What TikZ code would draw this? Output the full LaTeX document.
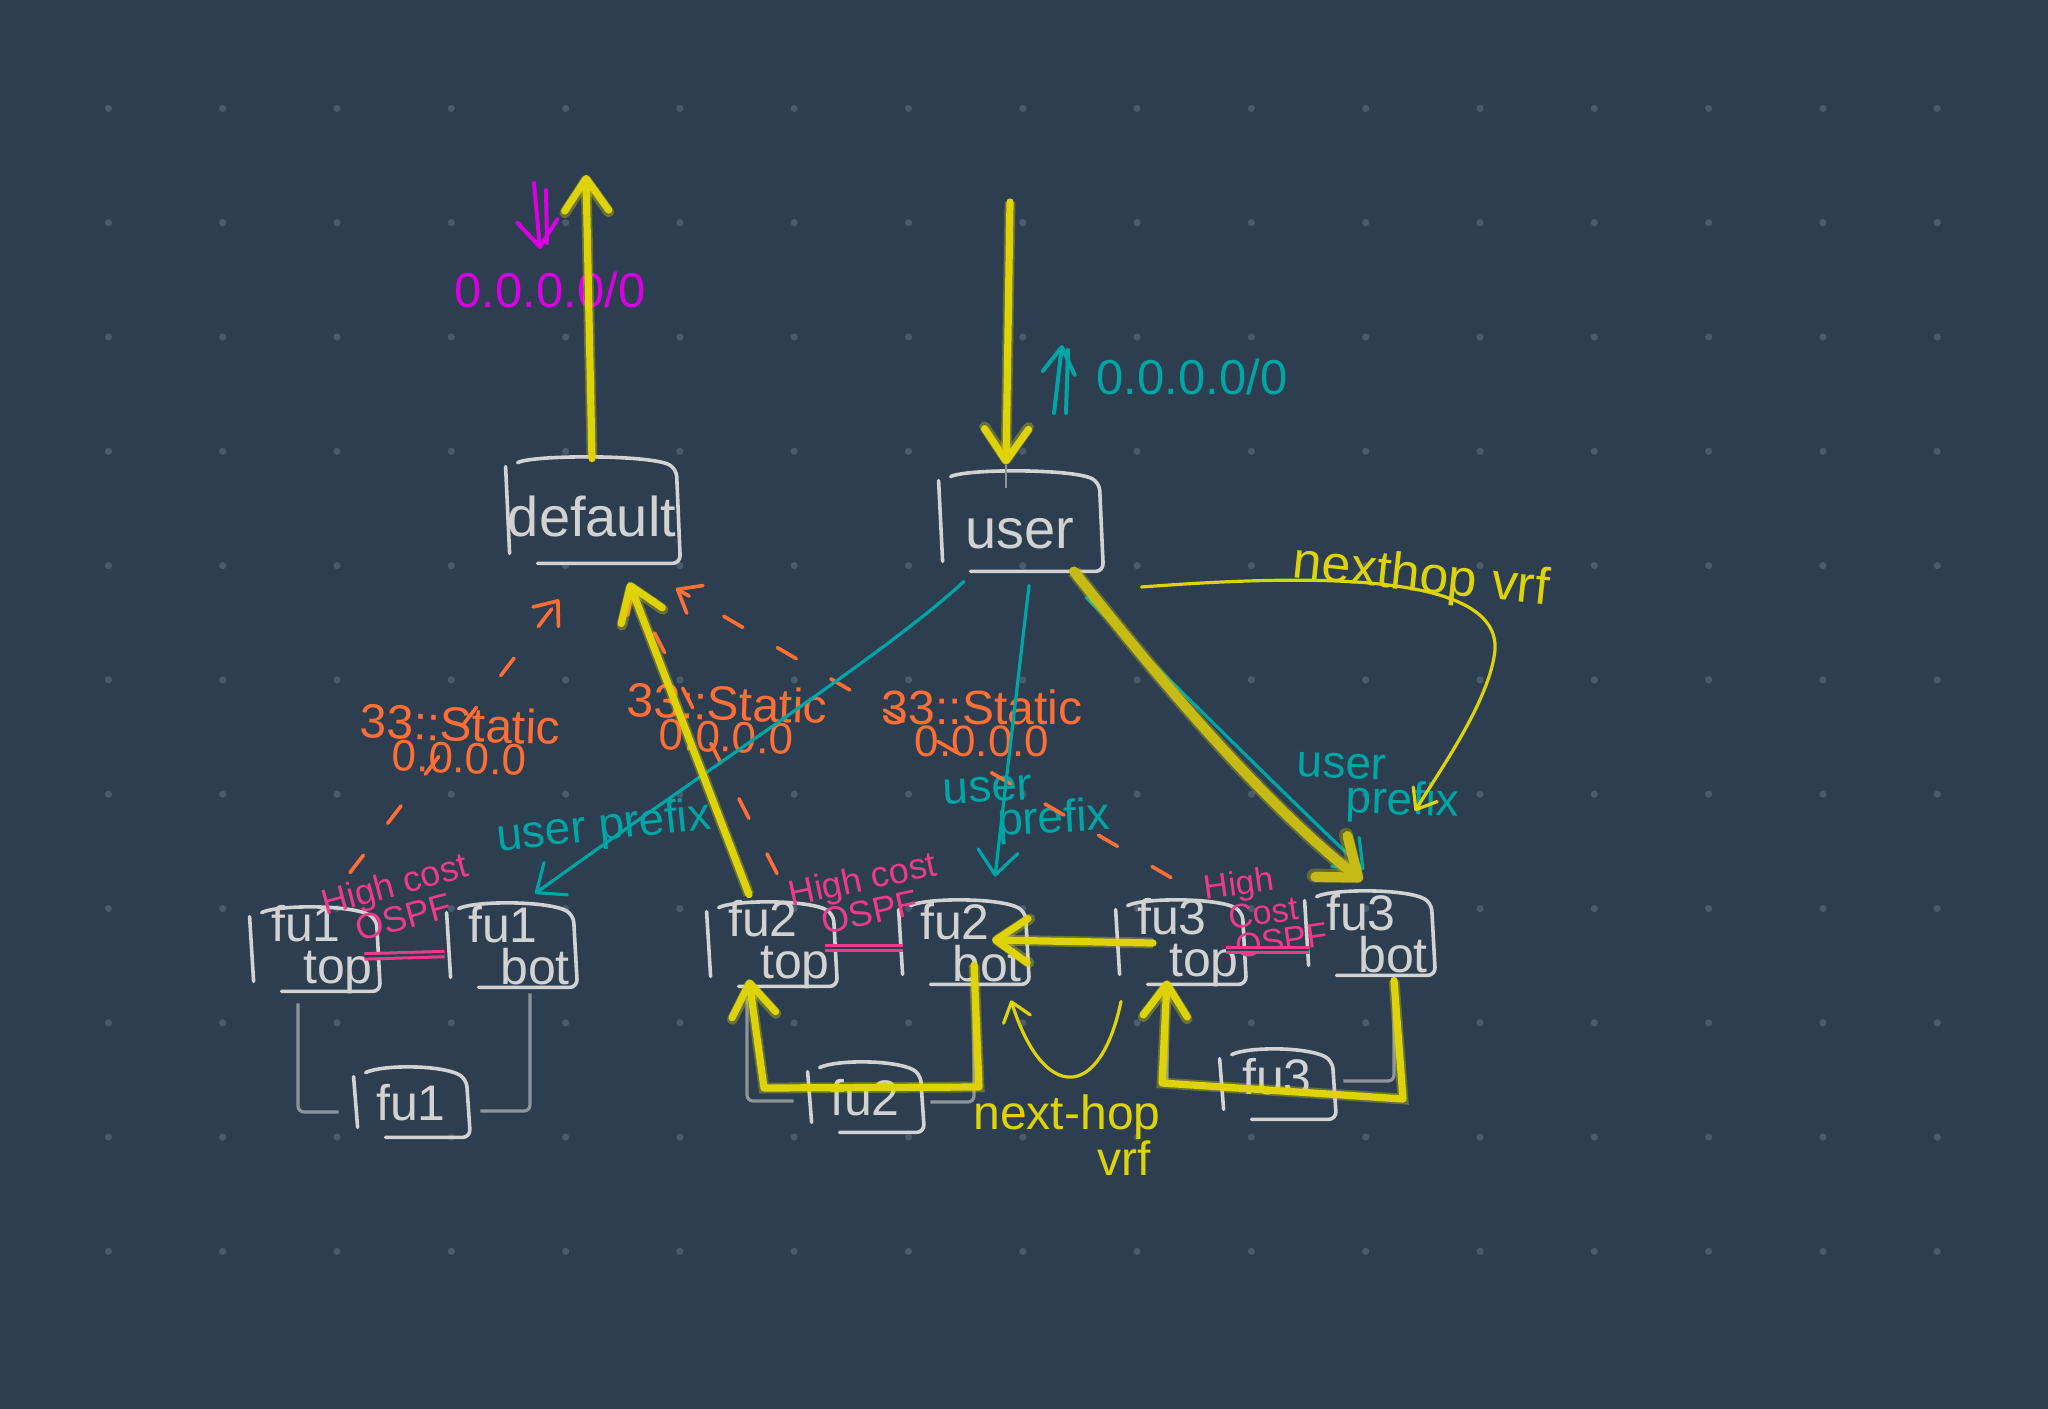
\documentclass[tikz,border=0pt]{standalone}
\usepackage{fontspec}
\setmainfont{Liberation Sans}
\usetikzlibrary{arrows.meta}
\definecolor{boardBlue}{HTML}{2C3E50}
\definecolor{gridDot}{HTML}{4A5B70}
\definecolor{chalk}{HTML}{D2D2D2}
\definecolor{linkGray}{HTML}{8D959C}
\definecolor{marker}{HTML}{DDD308}
\definecolor{markerDim}{HTML}{C6BA14}
\definecolor{penTeal}{HTML}{00A5A5}
\definecolor{penOrange}{HTML}{FF6E35}
\definecolor{penPink}{HTML}{EE3A8A}
\definecolor{penMagenta}{HTML}{DA00E6}
\tikzstyle{sketchLine} = [draw=chalk, line width=1.8pt, line cap=round, line join=round, rounded corners=4pt]
\tikzstyle{module} = [rectangle, inner sep=-12pt, align=center, text=chalk, font=\fontsize{25}{21}\selectfont,
    append after command={\pgfextra{\let\LN\tikzlastnode
        \draw[sketchLine] ([yshift=-4pt]\LN.north west) -- ([xshift=2pt,yshift=5pt]\LN.south west);
        \draw[sketchLine] ([xshift=6pt,yshift=-2pt]\LN.north west) .. controls ([xshift=14pt,yshift=2pt]\LN.north west) and ([xshift=-14pt,yshift=2pt]\LN.north east) .. ([xshift=-1pt,yshift=-5pt]\LN.north east) -- ([xshift=1pt]\LN.south east) -- ([xshift=16pt]\LN.south west);}}]
\tikzstyle{vrf} = [module, minimum width=86pt, minimum height=52pt, font=\fontsize{28}{24}\selectfont]
\tikzstyle{fuBox} = [module, minimum width=64pt, minimum height=41pt]
\tikzstyle{fuPlain} = [module, minimum width=57pt, minimum height=34pt]
\begin{document}
\begin{tikzpicture}[x=0.5pt, y=-0.5pt, node distance=100pt]
    \tikzstyle{yellowArrow} = [draw=marker, line width=3.6pt, line cap=round, line join=round, -{Straight Barb[length=16pt,width=22pt,round]}, preaction={draw=marker, draw opacity=.35, line width=5.4pt}]
    \tikzstyle{yellowThin} = [draw=marker, line width=1.6pt, line cap=round, -{Straight Barb[length=9pt,width=14pt,round]}]
    \tikzstyle{tealArrow} = [draw=penTeal, line width=1.6pt, line cap=round, -{Straight Barb[length=12pt,width=20pt,round]}]
    \tikzstyle{orangeDash} = [draw=penOrange, line width=1.8pt, line cap=round, dash pattern=on 11pt off 20pt, -{Straight Barb[length=10pt,width=16pt,round]}]
    \tikzstyle{grayLink} = [draw=linkGray, line width=1.6pt, rounded corners=3pt]
    \tikzstyle{ospfLink} = [draw=penPink, line width=1.5pt, double=boardBlue, double distance=1.2pt]
    \tikzstyle{staticLabel} = [inner sep=0pt, align=center, text=penOrange, font=\fontsize{24}{16}\selectfont]
    \tikzstyle{prefixLabel} = [inner sep=0pt, align=center, text=penTeal, font=\fontsize{23}{17}\selectfont]
    \tikzstyle{costLabel} = [inner sep=0pt, align=center, text=penPink, font=\fontsize{18}{16}\selectfont]
    \tikzstyle{hopLabel} = [inner sep=0pt, align=center, text=marker, font=\fontsize{24}{18}\selectfont]
    \tikzstyle{routeLabel} = [inner sep=0pt, font=\fontsize{24.5}{24}\selectfont]

    \useasboundingbox (0,0) rectangle (2048,1408);
    \fill[boardBlue] (-10,-10) rectangle (2058,1418);
    \foreach \col in {0,...,16} {
        \foreach \row in {0,...,10} {
            \fill[gridDot] (108.4+114.3*\col, 108.4+114.3*\row) circle (1.8pt);
        }
    }

    \node[vrf] (default) at (592,511) {\raisebox{-12.5pt}[0pt][0pt]{default}};
    \node[vrf, right of=default, xshift=114pt, yshift=-5.5pt, minimum width=81pt, minimum height=49pt] (user) {\raisebox{-13pt}[0pt][0pt]{user}};

    \node[fuBox, below of=default, xshift=-139pt, yshift=-119.5pt] (fu1top) {fu1\hspace*{8pt}\\\hspace*{24pt}top};
    \node[fuBox, right of=fu1top, xshift=-1.5pt, yshift=2pt] (fu1bot) {fu1\hspace*{8pt}\\\hspace*{24pt}bot};
    \node[fuPlain, below of=fu1top, xshift=48.5pt, yshift=23.5pt] (fu1) {fu1};

    \node[fuBox, right of=fu1bot, xshift=30pt, yshift=0.5pt] (fu2top) {fu2\hspace*{8pt}\\\hspace*{24pt}top};
    \node[fuBox, right of=fu2top, xshift=-4pt, yshift=1pt] (fu2bot) {fu2\hspace*{8pt}\\\hspace*{24pt}bot};
    \node[fuPlain, below of=fu2top, xshift=47pt, yshift=23.5pt] (fu2) {fu2};

    \node[fuBox, right of=fu2bot, xshift=8.5pt] (fu3top) {fu3\hspace*{8pt}\\\hspace*{24pt}top};
    \node[fuBox, right of=fu3top, xshift=-5.5pt, yshift=4.5pt] (fu3bot) {fu3\hspace*{8pt}\\\hspace*{24pt}bot};
    \node[fuPlain, below of=fu3top, xshift=48.5pt, yshift=29pt] (fu3) {\raisebox{-4.5pt}[0pt][0pt]{fu3}};

    \node[routeLabel, text=penMagenta, above of=default, xshift=-21pt, yshift=10.5pt] (defaultRoute) {0.0.0.0/0};
    \node[routeLabel, text=penTeal, right of=user, xshift=-14pt, yshift=72.5pt] (userRoute) {0.0.0.0/0};

    \node[staticLabel, above of=fu1top, xshift=73pt, yshift=5pt, rotate=-2] (static1) {33::Static\\{\fontsize{22}{16}\selectfont 0.0.0.0}};
    \node[staticLabel, above of=fu2top, xshift=-22pt, yshift=13pt, rotate=-2] (static2) {33::Static\\{\fontsize{22}{16}\selectfont 0.0.0.0}};
    \node[staticLabel, above of=fu2bot, xshift=9.5pt, yshift=10pt] (static3) {33::Static\\{\fontsize{22}{16}\selectfont 0.0.0.0}};

    \node[prefixLabel, above of=fu1bot, xshift=46.5pt, yshift=-41pt, rotate=6] (prefix1) {user prefix};
    \node[prefixLabel, above of=fu2bot, xshift=45pt, yshift=-32.5pt, rotate=3] (prefix2) {user\hspace*{64pt}\\prefix};
    \node[prefixLabel, above of=fu3bot, xshift=17pt, yshift=-28pt, rotate=-2] (prefix3) {user\hspace*{62pt}\\prefix};

    \node[costLabel, right of=fu1top, xshift=-57.5pt, yshift=25pt, rotate=15] (cost1) {High cost\\OSPF};
    \node[costLabel, right of=fu2top, xshift=-52.5pt, yshift=25pt, rotate=12] (cost2) {High cost\\OSPF};
    \node[costLabel, right of=fu3top, xshift=-58.5pt, yshift=16pt, rotate=8, font=\fontsize{17}{15}\selectfont] (cost3) {High\hspace*{20pt}\\Cost\\\hspace*{14pt}OSPF};

    \node[hopLabel, right of=user, xshift=100.5pt, yshift=-28pt, rotate=-6, font=\fontsize{26}{26}\selectfont] (hopTop) {nexthop vrf};
    \node[hopLabel, right of=fu2, xshift=1pt, yshift=-18.5pt] (hopBottom) {next-hop\\\hspace*{57pt}vrf};

    \coordinate[above of=default, xshift=-3pt, yshift=68pt] (defaultOut);
    \coordinate[above of=user, xshift=-5pt, yshift=60pt] (userIn);
    \coordinate[right of=fu2, xshift=-43pt, yshift=5.5pt] (fu2Right);
    \coordinate[left of=fu2, xshift=49.5pt, yshift=5pt] (fu2Left);
    \coordinate[right of=fu3, xshift=-37pt, yshift=-7pt] (fu3Right);
    \coordinate[left of=fu3, xshift=42.5pt, yshift=1pt] (fu3Left);

    \draw[grayLink] ([xshift=-8pt,yshift=-6pt]fu1top.south) |- ([xshift=-7.5pt,yshift=-4.5pt]fu1.west);
    \draw[grayLink] ([xshift=9.5pt,yshift=-3pt]fu1bot.south) |- ([xshift=6pt,yshift=-4pt]fu1.east);
    \draw[grayLink] ([xshift=-12pt,yshift=-6pt]fu2top.south) |- ([xshift=-7pt,yshift=-1.5pt]fu2.west);
    \draw[grayLink] ([xshift=5.5pt,yshift=-1pt]fu2bot.south) |- ([xshift=4pt,yshift=-2pt]fu2.east);
    \draw[grayLink] ([xshift=-6.5pt,yshift=-6pt]fu3top.south) |- ([xshift=-4pt]fu3.west);
    \draw[grayLink] ([xshift=4.5pt,yshift=2pt]fu3.east) -| ([xshift=12.5pt,yshift=-2.5pt]fu3bot.south);

    \draw[ospfLink, shorten <=-7pt, shorten >=1pt] ([yshift=-3pt]fu1top.east) -- ([yshift=-4pt]fu1bot.west);
    \draw[ospfLink, shorten <=-5pt, shorten >=-2pt] ([yshift=-1.5pt]fu2top.east) -- ([yshift=-2.5pt]fu2bot.west);
    \draw[ospfLink, shorten <=-9pt, shorten >=-2pt] ([yshift=-3.5pt]fu3top.east) -- ([yshift=-8pt]fu3bot.west);

    \draw[orangeDash] ([xshift=18pt,yshift=18pt]fu1top.north) -- ([xshift=-16.5pt,yshift=-18pt]default.south);
    \draw[orangeDash] ([xshift=3pt,yshift=15pt]fu2top.north) -- ([xshift=20pt,yshift=-12.5pt]default.south);
    \draw[orangeDash] ([xshift=-4.5pt,yshift=12pt]fu3top.north) -- ([xshift=42pt,yshift=-12.5pt]default.south);

    \draw[tealArrow] ([xshift=-28pt,yshift=-5pt]user.south) .. controls (890,650) and (720,760) .. ([xshift=12pt,yshift=5.5pt]fu1bot.north);
    \draw[tealArrow] ([xshift=4.5pt,yshift=-7pt]user.south) -- ([xshift=16pt,yshift=12.5pt]fu2bot.north);
    \draw[tealArrow] ([xshift=33pt,yshift=-13pt]user.south) .. controls (1170,680) and (1280,790) .. ([xshift=-2.5pt,yshift=11.5pt]fu3bot.north);

    \draw[draw=penMagenta, line width=2pt, line cap=round, -{Straight Barb[length=13pt,width=20pt,round]}] ([xshift=-8pt,yshift=53.5pt]defaultRoute.center) -- ([xshift=-5pt,yshift=20.5pt]defaultRoute.center);
    \draw[draw=penMagenta, line width=2pt, line cap=round] ([xshift=-2pt,yshift=50pt]defaultRoute.center) -- ([xshift=-1.5pt,yshift=23.5pt]defaultRoute.center);
    \draw[draw=penTeal, line width=2pt, line cap=round, -{Straight Barb[length=13pt,width=16pt,round]}] ([xshift=-69pt,yshift=-18pt]userRoute.center) -- ([xshift=-65pt,yshift=16pt]userRoute.center);
    \draw[draw=penTeal, line width=2pt, line cap=round] ([xshift=-63pt,yshift=-18pt]userRoute.center) -- ([xshift=-62pt,yshift=13.5pt]userRoute.center);

    \draw[yellowThin] ([xshift=-29.5pt,yshift=-8.5pt]fu3top.south) .. controls (1100,1102) and (1043,1102) .. ([xshift=24pt,yshift=-8pt]fu2bot.south);
    \draw[yellowThin] ([xshift=20pt,yshift=-32.5pt]user.east) .. controls (1300,575) and (1500,570) .. (1495,650) .. controls (1490,700) and (1440,770) .. ([xshift=6pt,yshift=-10.5pt]prefix3.center);

    \draw[yellowArrow] (default.north) -- (defaultOut);
    \draw[yellowArrow] (userIn) -- ([xshift=-7pt,yshift=4pt]user.north);
    \draw[draw=linkGray, line width=1pt] ([xshift=-7pt,yshift=4pt]user.north) -- ([xshift=-7pt,yshift=-7.5pt]user.north);
    \draw[yellowArrow] ([xshift=-11pt,yshift=4.5pt]fu2top.north) -- ([xshift=18.5pt,yshift=-9.5pt]default.south);
    \draw[draw=markerDim, line width=5pt, line cap=round, -{Straight Barb[length=17pt,width=26pt,round]}, preaction={draw=markerDim, draw opacity=.35, line width=7pt}] ([xshift=27pt]user.south) .. controls (1160,680) and (1260,800) .. ([xshift=-3.5pt,yshift=6pt]fu3bot.north);
    \draw[yellowArrow] ([xshift=-13.5pt]fu3top.center) -- ([xshift=14.5pt,yshift=1.5pt]fu2bot.center);
    \draw[yellowArrow] ([xshift=5.5pt,yshift=-11pt]fu2bot.center) -- (fu2Right) -- (fu2Left) -- ([xshift=-11pt,yshift=3.5pt]fu2top.south);
    \draw[yellowArrow] ([xshift=12.5pt,yshift=-2.5pt]fu3bot.south) -- (fu3Right) -- (fu3Left) -- ([xshift=-6.5pt,yshift=2pt]fu3top.south);

\end{tikzpicture}
\end{document}
